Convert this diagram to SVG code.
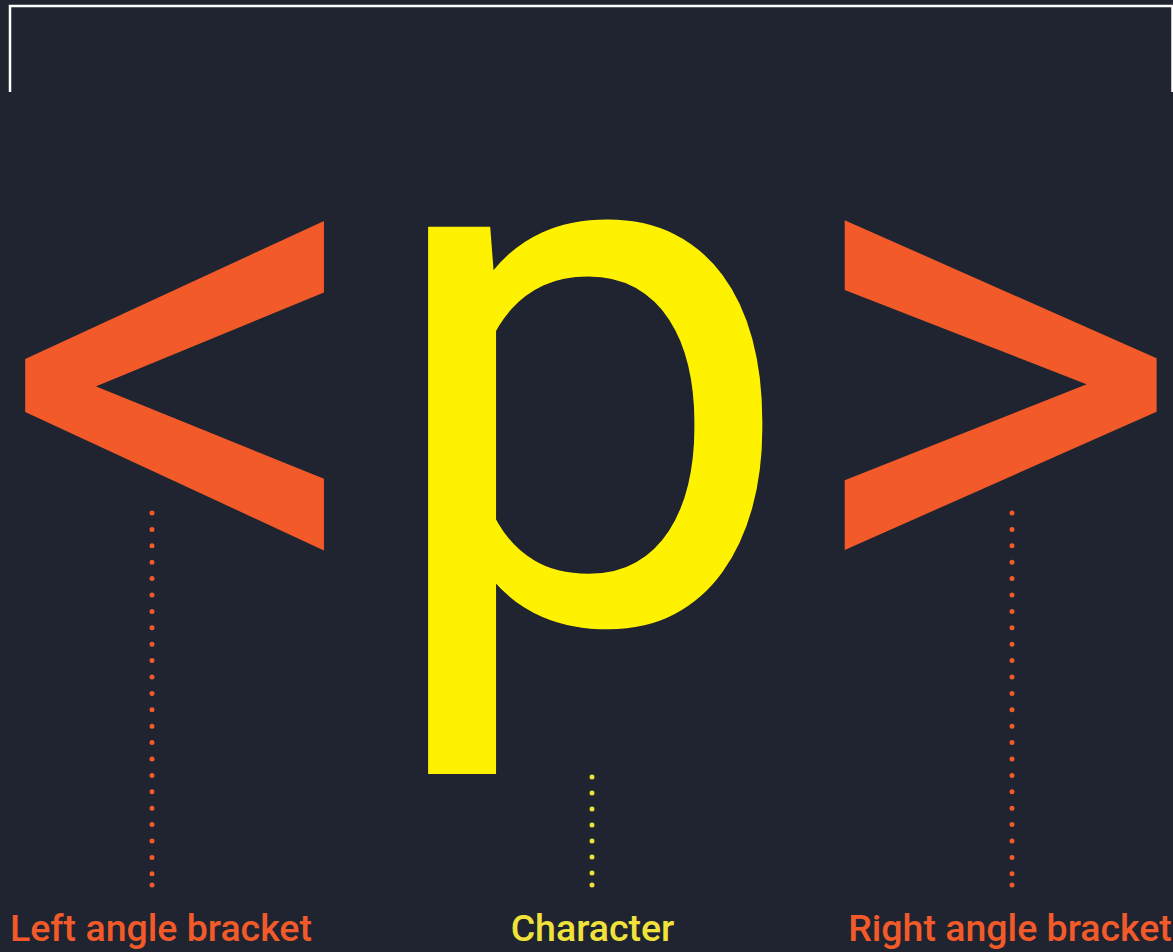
<svg xmlns="http://www.w3.org/2000/svg" width="1173" height="952" viewBox="0 0 1173 952">
<style>
.big{font-family:Roboto,"Liberation Sans",sans-serif;font-size:748px;font-weight:400}
.lbl{font-family:Roboto,"Liberation Sans",sans-serif;font-size:37.5px;font-weight:500}
.or{fill:#f25a29}
.ye{fill:#fff200}
.dots{fill:none;stroke-width:5;stroke-linecap:round}
</style>
<rect width="1173" height="952" fill="#1f2430"/>
<path d="M10,92 V6 H1172.5 V92" fill="none" stroke="#ffffff" stroke-width="2.5"/>
<g id="left-bracket"><text class="big or" x="189" y="622" text-anchor="middle">&lt;</text></g>
<g id="character"><text class="big ye" x="587" y="622" text-anchor="middle">p</text></g>
<g id="right-bracket"><text class="big or" x="991" y="622" text-anchor="middle">&gt;</text></g>
<g id="connectors">
<path class="dots" d="M152,513 V885" stroke="#f25a29" stroke-dasharray="0 16.4"/>
<circle cx="152" cy="885" r="2.5" fill="#f25a29"/>
<path class="dots" d="M592,777 V885" stroke="#f0e23a" stroke-dasharray="0 16"/>
<circle cx="592" cy="885" r="2.5" fill="#f0e23a"/>
<path class="dots" d="M1012,513 V885" stroke="#f25a29" stroke-dasharray="0 16.4"/>
<circle cx="1012" cy="885" r="2.5" fill="#f25a29"/>
</g>
<g id="labels">
<text class="lbl" x="161" y="941" text-anchor="middle" fill="#f25a29">Left angle bracket</text>
<text class="lbl" x="592.5" y="941" text-anchor="middle" fill="#f0e23a">Character</text>
<text class="lbl" x="1010" y="941" text-anchor="middle" fill="#f25a29">Right angle bracket</text>
</g>
</svg>
